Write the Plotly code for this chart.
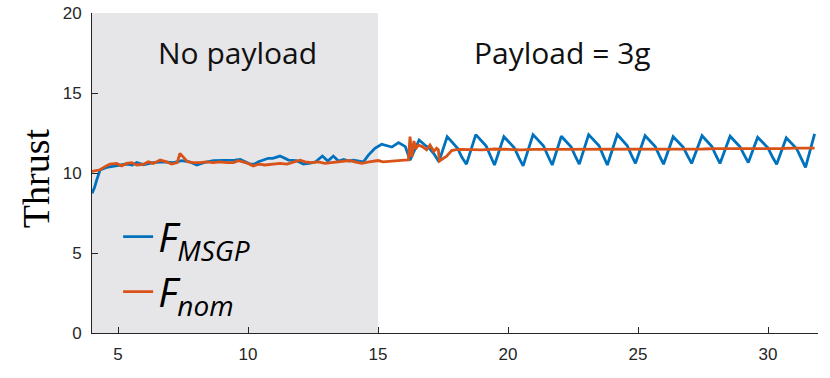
import plotly.graph_objects as go

# ---- data ----
blue_t = [4.0, 4.1, 4.18, 4.31, 4.56, 4.95, 5.33, 5.55, 5.72, 5.97, 6.36, 6.74, 7.13, 7.45, 7.75,
          8.03, 8.3, 8.67, 9.05, 9.5, 9.7, 9.88, 10.08, 10.25, 10.4, 10.78, 10.95, 11.23, 11.56,
          11.85, 12.13, 12.4, 12.6, 12.86, 13.07, 13.28, 13.48, 13.68, 13.88, 14.05, 14.24, 14.44,
          14.63, 14.88, 15.14, 15.35, 15.53, 15.79, 16.05, 16.23,
          16.58, 16.8, 17.0, 17.15, 17.34,
          17.66, 17.86, 18.06, 18.22, 18.4,
          18.76, 18.96, 19.16, 19.33, 19.48,
          19.84, 20.04, 20.24, 20.42, 20.58,
          20.96, 21.16, 21.36, 21.54, 21.7,
          22.05, 22.25, 22.43, 22.6, 22.74,
          23.1, 23.3, 23.5, 23.67, 23.82,
          24.2, 24.4, 24.58, 24.75, 24.9,
          25.27, 25.47, 25.66, 25.83, 25.98,
          26.35, 26.55, 26.74, 26.91, 27.06,
          27.46, 27.66, 27.84, 28.0, 28.15,
          28.54, 28.74, 28.92, 29.09, 29.24,
          29.6, 29.8, 30.0, 30.17, 30.33,
          30.7, 30.9, 31.1, 31.28, 31.44,
          31.79]
blue_v = [8.73, 9.1, 9.56, 10.19, 10.35, 10.48, 10.56, 10.5, 10.65, 10.52, 10.65, 10.7, 10.65, 10.77, 10.7,
          10.5, 10.65, 10.77, 10.77, 10.8, 10.85, 10.69, 10.56, 10.56, 10.7, 10.92, 10.92, 11.06, 10.81,
          10.78, 10.56, 10.62, 10.7, 11.06, 10.75, 11.06, 10.75, 10.85, 10.75, 10.8, 10.75, 10.7,
          11.12, 11.54, 11.8, 11.7, 11.62, 11.9, 11.65, 10.8,
          12.06, 11.75, 11.5, 11.2, 10.7,
          12.27, 11.92, 11.55, 11.0, 10.55,
          12.4, 12.05, 11.68, 11.05, 10.5,
          12.27, 11.92, 11.58, 10.95, 10.45,
          12.4, 12.04, 11.7, 11.05, 10.5,
          12.3, 11.95, 11.62, 11.0, 10.55,
          12.4, 12.05, 11.7, 11.05, 10.5,
          12.4, 12.05, 11.72, 11.1, 10.6,
          12.33, 12.0, 11.65, 11.05, 10.55,
          12.27, 11.93, 11.6, 11.05, 10.6,
          12.33, 12.0, 11.66, 11.08, 10.6,
          12.3, 11.97, 11.63, 11.1, 10.65,
          12.23, 11.9, 11.56, 11.0, 10.55,
          12.2, 11.87, 11.52, 10.9, 10.35,
          12.44]

orange_t = [4.0, 4.15, 4.31, 4.5, 4.69, 4.95, 5.14, 5.33, 5.53, 5.72, 5.97, 6.17, 6.36, 6.62, 6.87,
            7.06, 7.28, 7.38, 7.5, 7.67, 7.9, 8.15, 8.4, 8.67, 8.92, 9.18, 9.44, 9.63, 9.8, 10.0,
            10.2, 10.4, 10.65, 10.9, 11.23, 11.5, 11.8, 12.0, 12.2, 12.45, 12.7, 12.96, 13.2, 13.5,
            13.9, 14.15, 14.38, 14.6, 14.8, 15.0, 15.2, 15.5, 15.8, 16.0, 16.17,
            16.23, 16.3, 16.38, 16.45, 16.55, 16.7, 16.87, 17.0, 17.15, 17.25, 17.32, 17.36, 17.5,
            17.64, 17.83, 18.0, 18.2, 18.5, 19.0, 19.5, 20.0, 20.5, 21.0, 21.5, 22.0, 22.5, 23.0,
            23.5, 24.0, 24.5, 25.0, 25.5, 26.0, 26.5, 27.0, 27.5, 28.0, 28.5, 29.0, 29.5, 30.0,
            30.5, 31.0, 31.5, 31.79]
orange_v = [10.1, 10.15, 10.2, 10.4, 10.56, 10.6, 10.44, 10.6, 10.65, 10.5, 10.54, 10.7, 10.6, 10.81, 10.7,
            10.56, 10.65, 11.23, 11.02, 10.7, 10.65, 10.65, 10.7, 10.65, 10.7, 10.65, 10.65, 10.77, 10.7, 10.6,
            10.44, 10.55, 10.5, 10.55, 10.6, 10.56, 10.7, 10.8, 10.7, 10.65, 10.7, 10.6, 10.65, 10.7,
            10.78, 10.68, 10.6, 10.68, 10.72, 10.78, 10.7, 10.72, 10.78, 10.8, 10.82,
            12.27, 11.0, 12.0, 11.5, 11.75, 11.65, 11.45, 11.75, 11.35, 11.55, 11.45, 10.75, 10.9,
            11.05, 11.4, 11.46, 11.48, 11.47, 11.45, 11.5, 11.47, 11.45, 11.48, 11.48, 11.46, 11.46, 11.49,
            11.5, 11.47, 11.47, 11.5, 11.5, 11.48, 11.48, 11.5, 11.5, 11.52, 11.52, 11.5, 11.5, 11.53,
            11.53, 11.55, 11.55, 11.55]

x_ticks = [5, 10, 15, 20, 25, 30]
y_ticks = [0, 5, 10, 15, 20]
no_payload_span = [4, 15]
label_left = "No payload"
label_right = "Payload = 3g"
y_title = "Thrust"

BLUE = "#0072BD"
ORANGE = "#D95319"
AXC = "#262626"

fig = go.Figure()
fig.add_trace(go.Scatter(x=blue_t, y=blue_v, mode="lines",
                         line=dict(color=BLUE, width=2.8),
                         name="<i>F</i><sub><i>MSGP</i></sub>"))
fig.add_trace(go.Scatter(x=orange_t, y=orange_v, mode="lines",
                         line=dict(color=ORANGE, width=2.8),
                         name="<i>F</i><sub><i>nom</i></sub>"))

fig.add_shape(type="rect", xref="x", yref="y",
              x0=no_payload_span[0], x1=no_payload_span[1], y0=0, y1=20,
              fillcolor="#E6E6E8", line=dict(width=0), layer="below")

fig.add_annotation(x=9.58, y=17.56, xref="x", yref="y", text=label_left, showarrow=False,
                   font=dict(family="Open Sans", size=30, color="#111111"))
fig.add_annotation(x=22.08, y=17.56, xref="x", yref="y", text=label_right, showarrow=False,
                   font=dict(family="Open Sans", size=30, color="#111111"))
fig.add_annotation(x=-0.0771, y=0.484, xref="paper", yref="paper", text=y_title, showarrow=False,
                   textangle=-90, xanchor="center", yanchor="middle",
                   font=dict(family="Liberation Serif", size=38, color="#000000"))

fig.update_layout(
    width=830, height=378,
    margin=dict(l=92, r=12, t=13, b=45, autoexpand=False),
    paper_bgcolor="white", plot_bgcolor="white",
    showlegend=True,
    legend=dict(x=0.036, y=0.403, xanchor="left", yanchor="top",
                bgcolor="rgba(0,0,0,0)", borderwidth=0,
                font=dict(family="Open Sans", size=40, color="#000000"),
                tracegroupgap=0),
)
fig.update_xaxes(range=[4, 31.92], tickvals=x_ticks, showgrid=False, zeroline=False,
                 showline=True, linecolor=AXC, linewidth=1, ticks="inside", ticklen=6,
                 tickcolor=AXC, tickfont=dict(family="Liberation Sans", size=17, color=AXC),
                 ticklabelstandoff=6, automargin=False, ticklabeloverflow="allow")
fig.update_yaxes(range=[0, 20], tickvals=y_ticks, showgrid=False, zeroline=False,
                 showline=True, linecolor=AXC, linewidth=1, ticks="inside", ticklen=6,
                 tickcolor=AXC, tickfont=dict(family="Liberation Sans", size=17, color=AXC),
                 ticklabelstandoff=6, automargin=False, ticklabeloverflow="allow")

# remove the default page margin so the 830x378 figure fills the window exactly
fig.write_html("out.html", config={"displayModeBar": False},
               post_script="document.body.style.margin='0';")
